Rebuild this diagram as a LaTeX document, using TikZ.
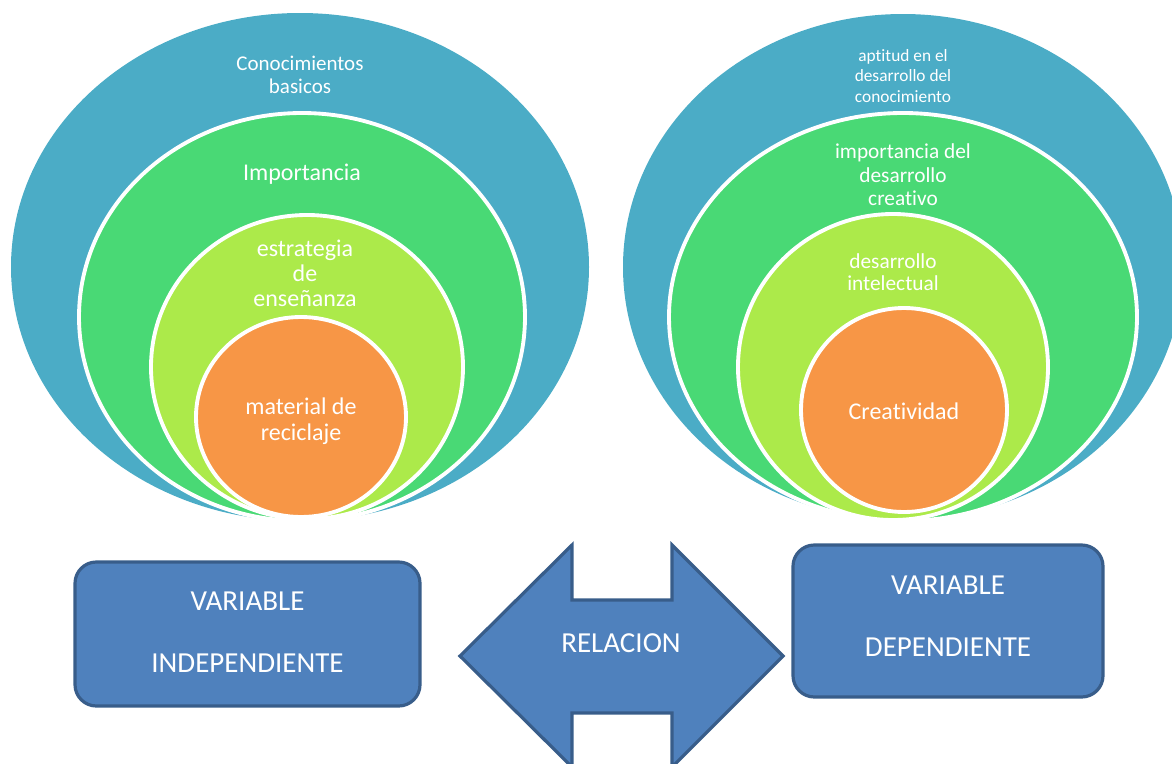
\documentclass[tikz,border=0pt]{standalone}
\usepackage{fontspec}
\setmainfont[Ligatures=NoCommon]{Carlito}
\usepackage{tikz}

\definecolor{aquaring}{RGB}{75,172,198}
\definecolor{greenring}{RGB}{73,217,117}
\definecolor{limering}{RGB}{172,234,74}
\definecolor{orangecore}{RGB}{247,150,70}
\definecolor{boxblue}{RGB}{79,129,189}
\definecolor{boxedge}{RGB}{56,93,138}

\tikzstyle{ring} = [draw=white, line width=2.9pt]
\tikzstyle{ringtext} = [text=white, align=center]
\tikzstyle{varbox} = [draw=boxedge, fill=boxblue, line width=2.4pt, rounded corners=16pt, text=white, align=center, font=\fontsize{21.75}{46.5}\selectfont]

\begin{document}
\begin{tikzpicture}[x=0.75pt, y=-0.75pt]
\useasboundingbox (0,0) rectangle (1172,764);

% left rings
\fill[aquaring] (300,267) ellipse [x radius=289, y radius=254];
\filldraw[ring, fill=greenring] (302,317) ellipse [x radius=223, y radius=204];
\filldraw[ring, fill=limering] (307,367) ellipse [x radius=156, y radius=152];
\filldraw[ring, fill=orangecore] (301,417) ellipse [x radius=105, y radius=100];

\node[ringtext, font=\fontsize{15.75}{17.25}\selectfont] (basicos) at (300,75) {Conocimientos\\basicos};
\node[ringtext, font=\fontsize{18}{21}\selectfont] (importancia) at (302,174) {Importancia};
\node[ringtext, font=\fontsize{18}{18.75}\selectfont] (estrategia) at (305,273) {estrategia\\de\\enseñanza};
\node[ringtext, font=\fontsize{18}{19.5}\selectfont] (material) at (301,421) {material de\\reciclaje};

% right rings
\fill[aquaring] (903,267) ellipse [x radius=280, y radius=253];
\filldraw[ring, fill=greenring] (903,317) ellipse [x radius=234, y radius=204];
\filldraw[ring, fill=limering] (893,367) ellipse [x radius=155, y radius=153];
\filldraw[ring, fill=orangecore] (904,410) ellipse [x radius=103, y radius=102];

\node[ringtext, font=\fontsize{13}{15.4}\selectfont] (aptitud) at (903,76) {aptitud en el\\desarrollo del\\conocimiento};
\node[ringtext, font=\fontsize{16}{17.6}\selectfont] (creativo) at (903,175) {importancia del\\desarrollo\\creativo};
\node[ringtext, font=\fontsize{16}{16.5}\selectfont] (intelectual) at (893,272) {desarrollo\\intelectual};
\node[ringtext, font=\fontsize{18}{21}\selectfont] (creatividad) at (904,411) {Creatividad};

% variables and relation
\node[varbox, minimum width=258.75pt, minimum height=108pt, text depth=3pt] (independiente) at (247.5,634) {VARIABLE\\INDEPENDIENTE};
\node[varbox, minimum width=232.5pt, minimum height=114pt, text depth=7.5pt] (dependiente) at (948,621) {VARIABLE\\DEPENDIENTE};

\filldraw[draw=boxedge, fill=boxblue, line width=2.4pt] (460,656) -- (572,545) -- (572,600) -- (672,600) -- (672,545) -- (783,656) -- (672,767) -- (672,713) -- (572,713) -- (572,767) -- cycle;
\node[text=white, font=\fontsize{21.75}{26}\selectfont] (relacion) at (621,643) {RELACION};
\end{tikzpicture}
\end{document}
